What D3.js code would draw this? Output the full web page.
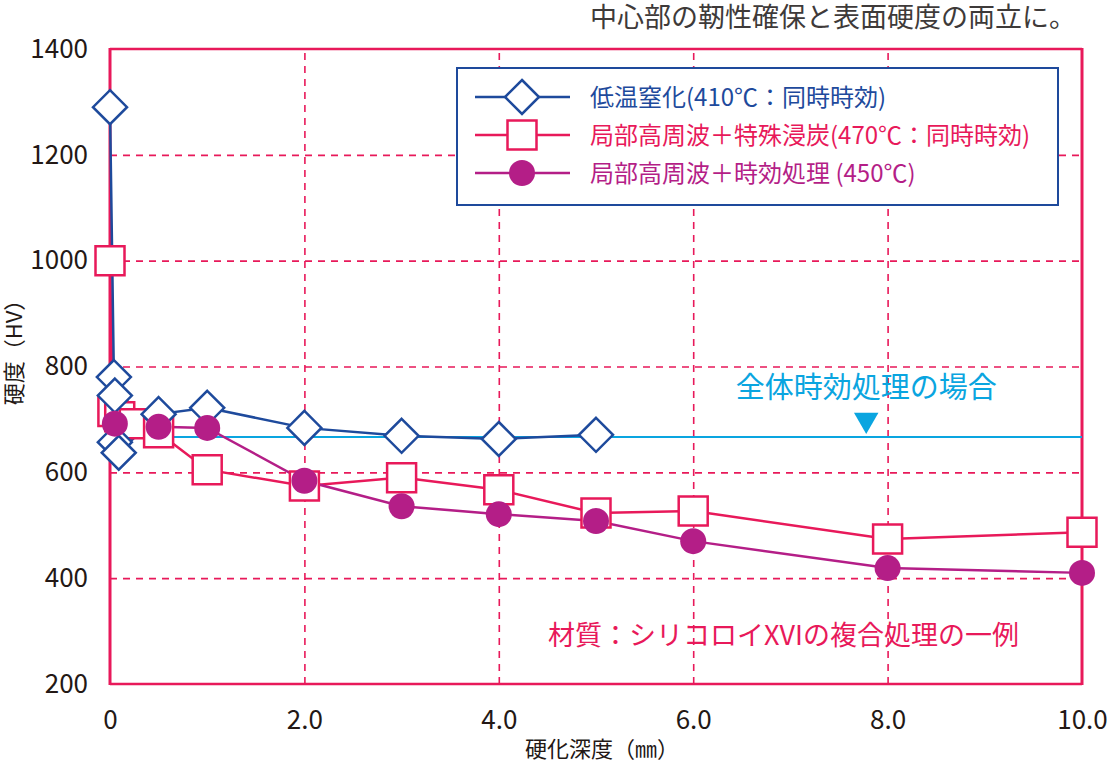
<!DOCTYPE html>
<html>
<head>
<meta charset="utf-8">
<script src="https://cdn.jsdelivr.net/npm/d3@7"></script>
<style>
body { margin: 0; background: #fff; }
svg { font-family: "Noto Sans CJK JP", "Noto Sans", sans-serif; }
</style>
</head>
<body>
<div id="chart"></div>
<script>
// tick values
var xTicks = [0, 2, 4, 6, 8, 10];
var xTickLabels = ["0", "2.0", "4.0", "6.0", "8.0", "10.0"];
var yTicks = [200, 400, 600, 800, 1000, 1200, 1400];

// 低温窒化(410℃：同時時効)
var nitrideX = [0, 0.04, 0.05, 0.05, 0.09, 0.5, 1.0, 2.0, 3.0, 4.0, 5.0];
var nitrideY = [1290, 780, 745, 657, 637, 710, 722, 684, 669, 663, 671];

// 局部高周波＋特殊浸炭(470℃：同時時効)
var carbX = [0, 0.03, 0.1, 0.25, 0.5, 1.0, 2.0, 3.0, 4.0, 5.0, 6.0, 8.0, 10.0];
var carbY = [1000, 715, 705, 692, 675, 605, 574, 590, 567, 523, 527, 474, 487];

// 局部高周波＋時効処理(450℃)
var ageX = [0.05, 0.5, 1.0, 2.0, 3.0, 4.0, 5.0, 6.0, 8.0, 10.0];
var ageY = [692, 686, 684, 584, 536, 521, 508, 470, 419, 410];

// 全体時効処理の場合
var wholeX = [0.5, 10.0];
var wholeY = [667, 667];
var arrowX = 7.78;
var arrowY = 699;

var seriesNames = ["低温窒化(410℃：同時時効)", "局部高周波＋特殊浸炭(470℃：同時時効)", "局部高周波＋時効処理 (450℃)"];

var blue = "#1e4a9c";
var crimson = "#e8195a";
var purple = "#b41e87";
var cyan = "#0aa5e0";
var ink = "#231815";

var svgWidth = 1107;
var svgHeight = 769;
var plotLeft = 110, plotRight = 1082, plotTop = 49, plotBottom = 684;

var xScale = d3.scaleLinear().domain([0, 10]).range([plotLeft, plotRight]);
var yScale = d3.scaleLinear().domain([200, 1400]).range([plotBottom, plotTop]);

var svg = d3.select("#chart").append("svg")
    .attr("width", svgWidth)
    .attr("height", svgHeight);

// grid lines
svg.append("g")
    .attr("transform", "translate(" + plotLeft + ",0)")
    .call(d3.axisLeft(yScale).tickValues([400, 600, 800, 1000, 1200]).tickSize(-(plotRight - plotLeft)).tickFormat(""))
    .call(g => g.select(".domain").remove())
    .selectAll("line")
    .attr("stroke", crimson)
    .attr("stroke-width", 1.6)
    .attr("stroke-dasharray", "7,6");

svg.append("g")
    .attr("transform", "translate(0," + plotBottom + ")")
    .call(d3.axisBottom(xScale).tickValues([2, 4, 6, 8]).tickSize(-(plotBottom - plotTop)).tickFormat(""))
    .call(g => g.select(".domain").remove())
    .selectAll("line")
    .attr("stroke", crimson)
    .attr("stroke-width", 1.6)
    .attr("stroke-dasharray", "7,6");

// frame
svg.append("line").attr("x1", plotLeft).attr("x2", plotRight).attr("y1", plotTop).attr("y2", plotTop)
    .attr("stroke", crimson).attr("stroke-width", 2.5);
svg.append("line").attr("x1", plotLeft).attr("x2", plotRight).attr("y1", plotBottom).attr("y2", plotBottom)
    .attr("stroke", crimson).attr("stroke-width", 2.5);
svg.append("line").attr("x1", plotLeft).attr("x2", plotLeft).attr("y1", plotTop - 1).attr("y2", plotBottom + 1)
    .attr("stroke", crimson).attr("stroke-width", 3);
svg.append("line").attr("x1", plotRight).attr("x2", plotRight).attr("y1", plotTop - 1).attr("y2", plotBottom + 1)
    .attr("stroke", crimson).attr("stroke-width", 3);

// axis labels
var yAxis = svg.append("g")
    .attr("transform", "translate(" + (plotLeft - 22) + ",0)")
    .call(d3.axisLeft(yScale).tickValues(yTicks).tickSize(0).tickFormat(d3.format("d")));
yAxis.select(".domain").remove();
yAxis.selectAll("text")
    .attr("font-family", "'Liberation Sans Narrow', 'Noto Sans CJK JP'")
    .attr("font-size", "26px")
    .attr("fill", ink)
    .attr("x", 0);

var xAxis = svg.append("g")
    .attr("transform", "translate(0," + (plotBottom + 24) + ")")
    .call(d3.axisBottom(xScale).tickValues(xTicks).tickSize(0).tickFormat((d, i) => xTickLabels[i]));
xAxis.select(".domain").remove();
xAxis.selectAll("text")
    .attr("font-family", "'Liberation Sans Narrow', 'Noto Sans CJK JP'")
    .attr("font-size", "26px")
    .attr("fill", ink);

svg.append("text")
    .text("硬化深度（㎜）")
    .attr("x", 602)
    .attr("y", 757)
    .attr("text-anchor", "middle")
    .attr("font-size", "22px")
    .attr("fill", ink);

svg.append("text")
    .text("硬度（HV）")
    .attr("transform", "translate(22,347) rotate(-90)")
    .attr("text-anchor", "middle")
    .attr("font-size", "22px")
    .attr("fill", ink);

svg.append("text")
    .text("中心部の靭性確保と表面硬度の両立に。")
    .attr("x", 1076)
    .attr("y", 27)
    .attr("text-anchor", "end")
    .attr("font-size", "27px")
    .attr("fill", "#3e3a39");

// whole aging reference line
var line = d3.line().x(d => xScale(d[0])).y(d => yScale(d[1]));

svg.append("path")
    .datum(d3.zip(wholeX, wholeY))
    .attr("d", line)
    .attr("fill", "none")
    .attr("stroke", cyan)
    .attr("stroke-width", 2);

svg.append("path")
    .attr("d", d3.symbol().type(d3.symbolTriangle).size(260)())
    .attr("transform", "translate(" + xScale(arrowX) + "," + yScale(arrowY) + ") rotate(180)")
    .attr("fill", cyan);

svg.append("text")
    .text("全体時効処理の場合")
    .attr("x", xScale(arrowX))
    .attr("y", 398)
    .attr("text-anchor", "middle")
    .attr("font-size", "29px")
    .attr("fill", cyan);

svg.append("text")
    .text("材質：シリコロイXVIの複合処理の一例")
    .attr("x", 548)
    .attr("y", 645)
    .attr("font-size", "27px")
    .attr("fill", crimson);

// series lines
svg.append("path")
    .datum(d3.zip(carbX, carbY))
    .attr("d", line)
    .attr("fill", "none")
    .attr("stroke", crimson)
    .attr("stroke-width", 2.5);

svg.append("path")
    .datum(d3.zip(nitrideX, nitrideY))
    .attr("d", line)
    .attr("fill", "none")
    .attr("stroke", blue)
    .attr("stroke-width", 2.5);

svg.append("path")
    .datum(d3.zip(ageX, ageY))
    .attr("d", line)
    .attr("fill", "none")
    .attr("stroke", purple)
    .attr("stroke-width", 2.5);

// markers
function diamond(sel) {
    sel.attr("d", "M0,-17L17,0L0,17L-17,0Z")
        .attr("fill", "#fff")
        .attr("stroke", blue)
        .attr("stroke-width", 2.5);
}
function square(sel) {
    sel.attr("d", "M-14.5,-14.5H14.5V14.5H-14.5Z")
        .attr("fill", "#fff")
        .attr("stroke", crimson)
        .attr("stroke-width", 2.5);
}

svg.selectAll(".sq")
    .data(d3.zip(carbX, carbY))
    .enter()
    .append("path")
    .attr("class", "sq")
    .attr("transform", d => "translate(" + xScale(d[0]) + "," + yScale(d[1]) + ")")
    .call(square);

svg.selectAll(".dm")
    .data(d3.zip(nitrideX, nitrideY))
    .enter()
    .append("path")
    .attr("class", "dm")
    .attr("transform", d => "translate(" + xScale(d[0]) + "," + yScale(d[1]) + ")")
    .call(diamond);

svg.selectAll(".ci")
    .data(d3.zip(ageX, ageY))
    .enter()
    .append("circle")
    .attr("class", "ci")
    .attr("cx", d => xScale(d[0]))
    .attr("cy", d => yScale(d[1]))
    .attr("r", 13)
    .attr("fill", purple);

// legend
var legend = svg.append("g");
legend.append("rect")
    .attr("x", 457).attr("y", 68)
    .attr("width", 601).attr("height", 137)
    .attr("fill", "#fff")
    .attr("stroke", blue)
    .attr("stroke-width", 2);

var legendColors = [blue, crimson, purple];
seriesNames.forEach((name, i) => {
    let y = 97 + i * 38;
    legend.append("line")
        .attr("x1", 475).attr("x2", 570).attr("y1", y).attr("y2", y)
        .attr("stroke", legendColors[i]).attr("stroke-width", 2.5);
    let m = legend.append(i == 2 ? "circle" : "path");
    if (i == 0) m.attr("transform", "translate(522," + y + ")").call(diamond);
    if (i == 1) m.attr("transform", "translate(522," + y + ")").call(square);
    if (i == 2) m.attr("cx", 522).attr("cy", y).attr("r", 13).attr("fill", purple);
    legend.append("text")
        .text(name)
        .attr("x", 590)
        .attr("y", y + 9)
        .attr("font-size", "24px")
        .attr("fill", legendColors[i]);
});
</script>
</body>
</html>
